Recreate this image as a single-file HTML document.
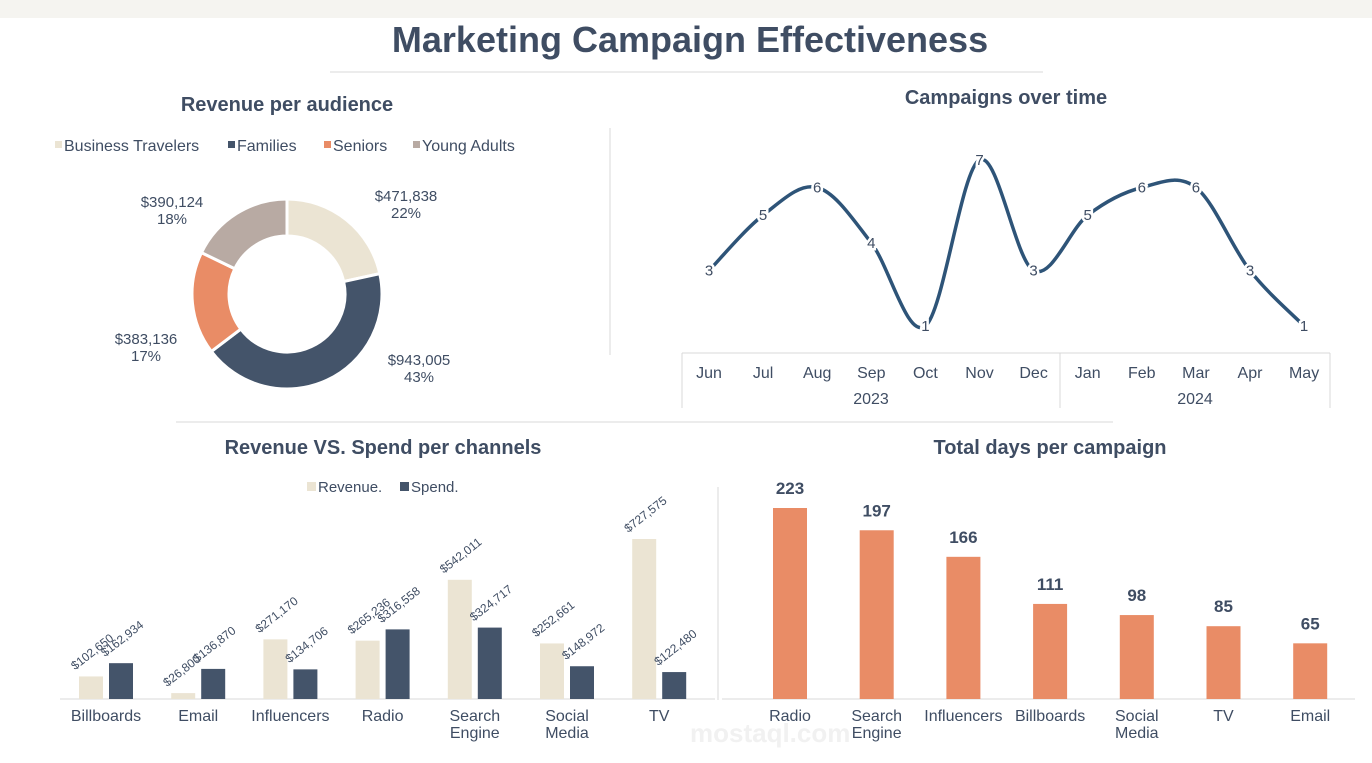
<!DOCTYPE html>
<html><head><meta charset="utf-8"><style>
body{margin:0;width:1372px;height:763px;background:#fff;font-family:"Liberation Sans",sans-serif;color:#3f4d63;overflow:hidden}
svg{position:absolute;left:0;top:0}
</style></head><body>
<svg id="s" width="1372" height="763">
<rect x="0" y="0" width="1372" height="18" fill="#f5f4f0"/>
<text x="690" y="52" text-anchor="middle" font-size="36" font-weight="bold" fill="#3f4d63">Marketing Campaign Effectiveness</text>
<line x1="330" y1="72" x2="1043" y2="72" stroke="#d9d9d9"/>
<line x1="610" y1="128" x2="610" y2="355" stroke="#d9d9d9"/>
<line x1="176" y1="422" x2="1113" y2="422" stroke="#d9d9d9"/>
<line x1="718" y1="487" x2="718" y2="700" stroke="#d9d9d9"/>
<g font-size="20" font-weight="bold" text-anchor="middle" fill="#3f4d63">
<text x="287" y="111">Revenue per audience</text>
<text x="1006" y="104">Campaigns over time</text>
<text x="383" y="454">Revenue VS. Spend per channels</text>
<text x="1050" y="454">Total days per campaign</text>
</g>
<g id="donut"></g><g id="line"></g><g id="bars"></g><g id="days"></g>
<text x="690" y="742" font-size="26" font-weight="bold" fill="#f1f1f1">mostaql.com</text>
</svg>
<script>
const audNames=["Business Travelers","Families","Seniors","Young Adults"];
const audValues=[471838,943005,383136,390124];
const audPct=["22%","43%","17%","18%"];
const audColors=["#ebe4d3","#44546a","#e98c66","#b8aaa3"];
const months=["Jun","Jul","Aug","Sep","Oct","Nov","Dec","Jan","Feb","Mar","Apr","May"];
const campaigns=[3,5,6,4,1,7,3,5,6,6,3,1];
const channels=[["Billboards"],["Email"],["Influencers"],["Radio"],["Search","Engine"],["Social","Media"],["TV"]];
const revenue=[102650,26800,271170,265236,542011,252661,727575];
const spend=[162934,136870,134706,316558,324717,148972,122480];
const dayCats=[["Radio"],["Search","Engine"],["Influencers"],["Billboards"],["Social","Media"],["TV"],["Email"]];
const days=[223,197,166,111,98,85,65];
const NS="http://www.w3.org/2000/svg";
function mk(p,t,a,txt){const e=document.createElementNS(NS,t);for(const k in a)e.setAttribute(k,a[k]);if(txt!=null)e.textContent=txt;p.appendChild(e);return e;}
const fmt=v=>"$"+v.toLocaleString("en-US");
// donut
const dg=document.getElementById("donut");
let lx=[55,228,324,413];
audNames.forEach((n,i)=>{const r=mk(dg,"rect",{x:lx[i],y:141,width:7,height:7,fill:audColors[i]});


const t=mk(dg,"text",{x:lx[i]+9,y:151,"font-size":16,fill:"#3f4d63"},n);

});
const cx=287,cy=294,R=95,r0=58,tot=audValues.reduce((a,b)=>a+b,0);
let a0=-Math.PI/2;
const lblPos=[[406,201],[419,365],[146,344],[172,207]];
audValues.forEach((v,i)=>{const a1=a0+v/tot*2*Math.PI;
const P=(rr,a)=>[cx+rr*Math.cos(a),cy+rr*Math.sin(a)];
const [x1,y1]=P(R,a0),[x2,y2]=P(R,a1),[x3,y3]=P(r0,a1),[x4,y4]=P(r0,a0);const lg=(a1-a0)>Math.PI?1:0;
const p=mk(dg,"path",{d:`M${x1},${y1}A${R},${R} 0 ${lg} 1 ${x2},${y2}L${x3},${y3}A${r0},${r0} 0 ${lg} 0 ${x4},${y4}Z`,fill:audColors[i],stroke:"#fff","stroke-width":3});


const t=mk(dg,"text",{x:lblPos[i][0],y:lblPos[i][1],"font-size":15,"text-anchor":"middle",fill:"#3f4d63"});


mk(t,"tspan",{x:lblPos[i][0]},fmt(v));mk(t,"tspan",{x:lblPos[i][0],dy:17},audPct[i]);
a0=a1;});
// line
const lg=document.getElementById("line");
const xL=i=>709+i*54.1, yL=v=>326-(v-1)*27.7;
const pts=campaigns.map((v,i)=>[xL(i),yL(v)]);
let d=`M${pts[0][0]},${pts[0][1]}`;
for(let i=0;i<pts.length-1;i++){const p0=pts[Math.max(0,i-1)],p1=pts[i],p2=pts[i+1],p3=pts[Math.min(pts.length-1,i+2)];
d+=`C${p1[0]+(p2[0]-p0[0])/6},${p1[1]+(p2[1]-p0[1])/6} ${p2[0]-(p3[0]-p1[0])/6},${p2[1]-(p3[1]-p1[1])/6} ${p2[0]},${p2[1]}`;}
const ln=mk(lg,"path",{d:d,fill:"none",stroke:"#2e5478","stroke-width":3.5});


pts.forEach((p,i)=>{const t=mk(lg,"text",{x:p[0],y:p[1]+5,"font-size":15,"text-anchor":"middle",fill:"#3f4d63",stroke:"#fff","stroke-width":5,"paint-order":"stroke"},campaigns[i]);


const m=mk(lg,"text",{x:p[0],y:378,"font-size":16,"text-anchor":"middle",fill:"#3f4d63"},months[i]);

});
const ax=mk(lg,"path",{d:"M682,353H1330M682,353V408M1060,353V408M1330,353V408",stroke:"#d9d9d9",fill:"none"});


[["2023",871],["2024",1195]].forEach(y=>{const t=mk(lg,"text",{x:y[1],y:404,"font-size":16,"text-anchor":"middle",fill:"#3f4d63"},y[0]);

});
// rev vs spend
const bg=document.getElementById("bars");const base=699,sc=160/727575,gx=i=>106+i*92.2;
[["Revenue.","#ebe4d3",307],["Spend.","#44546a",400]].forEach(l=>{const r=mk(bg,"rect",{x:l[2],y:482,width:9,height:9,fill:l[1]});


const t=mk(bg,"text",{x:l[2]+11,y:492,"font-size":15,fill:"#3f4d63"},l[0]);

});
const bl=mk(bg,"line",{x1:60,y1:base,x2:715,y2:base,stroke:"#d9d9d9"});


channels.forEach((c,i)=>{[[revenue,"#ebe4d3",-27],[spend,"#44546a",3]].forEach(s=>{const v=s[0][i],h=v*sc,x=gx(i)+s[2];
const r=mk(bg,"rect",{x:x,y:base-h,width:24,height:h,fill:s[1]});


const lx=x-4,ly=base-h-6;
const t=mk(bg,"text",{x:lx,y:ly,"font-size":12,fill:"#3f4d63",transform:`rotate(-38 ${lx} ${ly})`},fmt(v));

});
const t=mk(bg,"text",{x:gx(i),y:721,"font-size":16,"text-anchor":"middle",fill:"#3f4d63"});


c.forEach((w,k)=>mk(t,"tspan",{x:gx(i),dy:k?17:0},w));});
// days
const dg2=document.getElementById("days");const dsc=191/223,dx=i=>790+i*86.7;
const bl2=mk(dg2,"line",{x1:722,y1:base,x2:1355,y2:base,stroke:"#d9d9d9"});


days.forEach((v,i)=>{const h=v*dsc;const r=mk(dg2,"rect",{x:dx(i)-17,y:base-h,width:34,height:h,fill:"#e98c66"});


const t=mk(dg2,"text",{x:dx(i),y:base-h-14,"font-size":17,"font-weight":"bold","text-anchor":"middle",fill:"#3f4d63"},v);


const c=mk(dg2,"text",{x:dx(i),y:721,"font-size":16,"text-anchor":"middle",fill:"#3f4d63"});


dayCats[i].forEach((w,k)=>mk(c,"tspan",{x:dx(i),dy:k?17:0},w));});
</script>
</body></html>
